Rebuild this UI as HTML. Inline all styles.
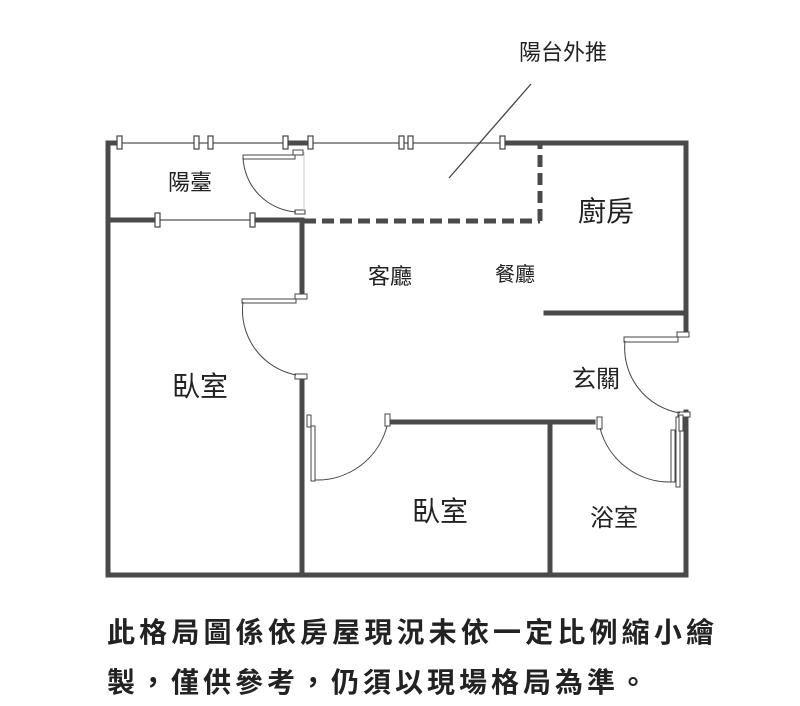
<!DOCTYPE html>
<html><head><meta charset="utf-8"><style>
html,body{margin:0;padding:0;background:#fff;}
svg{display:block;}
text{font-family:"Liberation Sans","Noto Sans CJK TC",sans-serif;fill:#222;}
</style></head><body>
<svg width="800" height="706" viewBox="0 0 800 706" xmlns="http://www.w3.org/2000/svg">
<g stroke="#4a4a4a" stroke-width="5" fill="none" stroke-linecap="square">
  <line x1="108" y1="143" x2="108" y2="575"/>
  <line x1="108" y1="143" x2="118" y2="143"/>
  <line x1="108" y1="575" x2="686" y2="575"/>
  <line x1="505" y1="143" x2="686" y2="143"/>
  <line x1="686" y1="143" x2="686" y2="330"/>
  <line x1="686" y1="412" x2="686" y2="575"/>
  <line x1="290" y1="143" x2="305" y2="143"/>
  <line x1="108" y1="220" x2="155" y2="220"/>
  <line x1="255" y1="220" x2="302" y2="220"/>
  <line x1="302" y1="220" x2="302" y2="296"/>
  <line x1="302" y1="379" x2="302" y2="575"/>
  <line x1="546" y1="313" x2="686" y2="313"/>
  <line x1="393" y1="422" x2="593" y2="422"/>
  <line x1="550" y1="422" x2="550" y2="575"/>
</g>
<g stroke="#4a4a4a" stroke-width="5" fill="none" stroke-dasharray="12,6">
  <line x1="304" y1="221" x2="540" y2="221"/>
  <line x1="540" y1="221" x2="540" y2="145"/>
</g>
<g stroke="#555" stroke-width="1.2" fill="none">
  <line x1="118" y1="143" x2="290" y2="143"/>
  <line x1="305" y1="143" x2="505" y2="143"/>
  <line x1="155" y1="220" x2="255" y2="220"/>
</g>
<g stroke="#444" stroke-width="1.2" fill="#fff">
  <rect x="117" y="136" width="5" height="13"/>
  <rect x="194" y="136" width="5" height="13"/>
  <rect x="208" y="136" width="5" height="13"/>
  <rect x="283" y="136" width="5" height="13"/>
  <rect x="308" y="136" width="5" height="13"/>
  <rect x="399" y="136" width="5" height="13"/>
  <rect x="408" y="136" width="5" height="13"/>
  <rect x="500" y="136" width="5" height="13"/>
  <rect x="155" y="213" width="5" height="14"/>
  <rect x="250" y="213" width="5" height="14"/>
</g>
<g stroke="#444" stroke-width="1" fill="#fff">
  <rect x="243" y="155" width="52" height="4"/>
  <rect x="293" y="150" width="10" height="5"/>
  <rect x="295" y="210" width="10" height="4"/>
  <path d="M243 157 A57 57 0 0 0 296 212" fill="none"/>
  <line x1="304" y1="152" x2="304" y2="212" stroke="#ccc"/>
  <rect x="242" y="299" width="54" height="4"/>
  <rect x="295" y="294" width="12" height="5"/>
  <rect x="295" y="374" width="12" height="5"/>
  <path d="M243 302 A66 66 0 0 0 296 375" fill="none"/>
  <rect x="624" y="337" width="54" height="5"/>
  <rect x="677" y="332" width="12" height="5"/>
  <rect x="678" y="412" width="12" height="5"/>
  <path d="M625 341 A66 66 0 0 0 680 413" fill="none"/>
  <rect x="676" y="417" width="4" height="70"/>
  <rect x="679" y="415" width="4" height="16"/>
  <rect x="307" y="415" width="4" height="12"/>
  <rect x="311" y="426" width="4" height="55"/>
  <rect x="385" y="414" width="5" height="12"/>
  <path d="M387 426 A72 72 0 0 1 315 480" fill="none"/>
  <rect x="597" y="417" width="5" height="12"/>
  <path d="M600 428 A72 72 0 0 0 672 482" fill="none"/>
  <rect x="671" y="430" width="4" height="52"/>
</g>
<line x1="449" y1="178" x2="531" y2="84" stroke="#444" stroke-width="1.3"/>
<text x="563" y="60" font-size="22" text-anchor="middle">陽台外推</text>
<text x="190" y="190" font-size="22" text-anchor="middle" fill="#444">陽臺</text>
<text x="606" y="221" font-size="28" text-anchor="middle">廚房</text>
<text x="390" y="284" font-size="22" text-anchor="middle">客廳</text>
<text x="515" y="281" font-size="20" text-anchor="middle">餐廳</text>
<text x="200" y="396" font-size="28" text-anchor="middle">臥室</text>
<text x="596" y="387" font-size="24" text-anchor="middle">玄關</text>
<text x="440" y="521" font-size="28" text-anchor="middle">臥室</text>
<text x="614" y="526" font-size="24" text-anchor="middle">浴室</text>
<text x="107" y="642" font-size="28" font-weight="bold" textLength="607" lengthAdjust="spacing" fill="#111">此格局圖係依房屋現況未依一定比例縮小繪</text>
<text x="107" y="692" font-size="28" font-weight="bold" textLength="540" lengthAdjust="spacing" fill="#111">製，僅供參考，仍須以現場格局為準。</text>
</svg>
</body></html>
